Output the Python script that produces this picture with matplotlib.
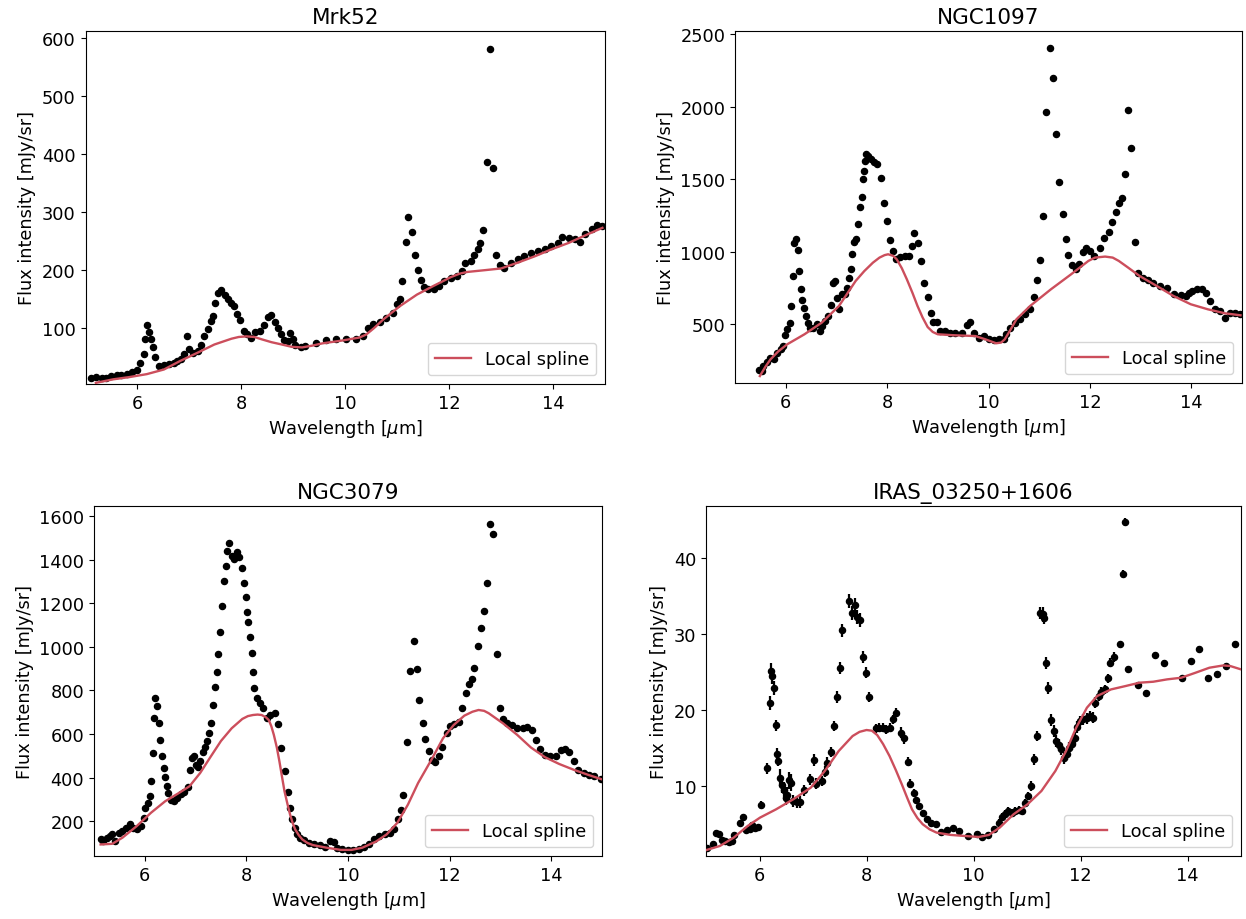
import numpy as np
import matplotlib
matplotlib.use("Agg")
import matplotlib.pyplot as plt

plt.rcParams["font.size"] = 12.8

# --- Mrk52 ---
mrk52_wave = [5.11, 5.21, 5.31, 5.40, 5.50, 5.60, 5.69, 5.79, 5.89, 5.99,
              6.05, 6.12, 6.15, 6.18, 6.23, 6.27, 6.30, 6.34, 6.41, 6.51,
              6.60, 6.70, 6.77, 6.83, 6.90, 6.95, 6.99, 7.06, 7.16, 7.22,
              7.29, 7.35, 7.42, 7.45, 7.50, 7.55, 7.61, 7.68, 7.74, 7.81,
              7.86, 7.92, 7.98, 8.05, 8.11, 8.18, 8.26, 8.36, 8.44, 8.51,
              8.58, 8.65, 8.71, 8.77, 8.83, 8.89, 8.94, 8.99, 9.04, 9.14,
              9.23, 9.43, 9.62, 9.82, 10.01, 10.21, 10.34, 10.44, 10.53, 10.66,
              10.79, 10.92, 10.99, 11.05, 11.10, 11.16, 11.21, 11.28, 11.34, 11.40,
              11.46, 11.52, 11.60, 11.70, 11.80, 11.90, 12.03, 12.16, 12.24, 12.31,
              12.42, 12.48, 12.55, 12.60, 12.66, 12.72, 12.78, 12.84, 12.90, 12.97,
              13.06, 13.19, 13.32, 13.45, 13.58, 13.71, 13.84, 13.97, 14.10, 14.17,
              14.30, 14.43, 14.51, 14.62, 14.75, 14.85, 14.94]
mrk52_flux = [15, 16, 14, 15, 17, 19, 20, 22, 24, 28,
              41, 55, 82, 105, 93, 81, 67, 50, 35, 37,
              38, 40, 44, 47, 55, 87, 64, 58, 61, 72,
              87, 98, 113, 121, 144, 161, 166, 158, 150, 144,
              138, 124, 114, 95, 90, 84, 94, 95, 105, 120,
              122, 111, 101, 90, 80, 78, 91, 81, 72, 67,
              70, 75, 79, 81, 81, 82, 87, 101, 107, 110,
              117, 127, 141, 150, 181, 249, 292, 265, 226, 201,
              183, 171, 167, 167, 173, 181, 187, 190, 199, 213,
              216, 227, 236, 247, 270, 387, 581, 376, 227, 209,
              204, 213, 219, 224, 230, 233, 237, 242, 247, 258,
              256, 253, 249, 262, 271, 277, 276]
mrk52_spl_wave = [5.2, 5.53, 5.85, 6.18, 6.51, 6.83, 7.16, 7.48, 7.81, 7.95,
                  8.10, 8.25, 8.39, 8.58, 8.78, 8.97, 9.17, 9.36, 9.56, 9.95,
                  10.27, 10.40, 10.55, 10.73, 11.05, 11.38, 11.70, 11.90, 12.03, 12.20,
                  12.35, 12.68, 13.00, 13.32, 13.65, 13.97, 14.30, 14.62, 14.95]
mrk52_spl_flux = [6, 12, 16, 21, 29, 44, 58, 72, 82, 85,
                  86, 85, 81, 76, 72, 68, 67, 70, 74, 79,
                  84, 89, 100, 115, 138, 158, 173, 182, 188, 194,
                  197, 200, 203, 213, 224, 236, 247, 260, 273]

# --- NGC1097 ---
ngc1097_wave = [5.48, 5.53, 5.56, 5.63, 5.70, 5.76, 5.83, 5.90, 5.95, 5.98,
                6.03, 6.08, 6.11, 6.14, 6.17, 6.20, 6.24, 6.27, 6.30, 6.33,
                6.36, 6.40, 6.44, 6.48, 6.54, 6.61, 6.67, 6.72, 6.78, 6.84,
                6.90, 6.94, 6.98, 7.01, 7.06, 7.11, 7.17, 7.21, 7.25, 7.28,
                7.31, 7.35, 7.38, 7.43, 7.47, 7.50, 7.52, 7.54, 7.56, 7.58,
                7.63, 7.69, 7.74, 7.81, 7.87, 7.94, 7.99, 8.06, 8.11, 8.18,
                8.26, 8.36, 8.43, 8.49, 8.54, 8.61, 8.66, 8.73, 8.80, 8.87,
                8.91, 8.98, 9.05, 9.14, 9.24, 9.34, 9.47, 9.57, 9.64, 9.71,
                9.81, 9.91, 10.01, 10.11, 10.21, 10.30, 10.35, 10.42, 10.52, 10.62,
                10.72, 10.82, 10.90, 10.96, 11.01, 11.08, 11.14, 11.21, 11.27, 11.33,
                11.39, 11.46, 11.52, 11.57, 11.64, 11.72, 11.79, 11.87, 11.93, 12.01,
                12.09, 12.19, 12.27, 12.37, 12.44, 12.51, 12.57, 12.63, 12.69, 12.76,
                12.82, 12.88, 12.95, 13.05, 13.15, 13.25, 13.38, 13.52, 13.65, 13.79,
                13.89, 13.96, 14.02, 14.12, 14.22, 14.29, 14.36, 14.46, 14.56, 14.66,
                14.76, 14.87, 14.97]
ngc1097_flux = [182, 176, 210, 238, 268, 256, 302, 325, 348, 422,
                463, 509, 624, 831, 1057, 1084, 1011, 866, 739, 666,
                613, 555, 509, 475, 475, 498, 452, 486, 521, 555,
                629, 785, 797, 682, 606, 705, 705, 751, 820, 882,
                981, 1066, 1084, 1193, 1310, 1377, 1503, 1556, 1621, 1671,
                1660, 1637, 1618, 1602, 1510, 1338, 1211, 1080, 1004, 951,
                965, 969, 969, 1038, 1130, 1061, 935, 781, 689, 578,
                514, 514, 452, 452, 440, 436, 436, 491, 514, 436,
                406, 417, 399, 390, 394, 399, 429, 475, 509, 532,
                567, 606, 686, 804, 939, 1246, 1963, 2401, 2196, 1809,
                1480, 1257, 1089, 976, 905, 882, 912, 997, 1027, 1004,
                969, 1022, 1091, 1137, 1206, 1273, 1338, 1372, 1535, 1975,
                1717, 1068, 854, 820, 804, 785, 762, 751, 705, 698,
                693, 716, 728, 744, 744, 716, 659, 601, 590, 544,
                578, 578, 571]
ngc1097_spl_wave = [5.49, 5.60, 5.70, 5.85, 6.03, 6.37, 6.71, 7.05, 7.38, 7.55,
                    7.72, 7.85, 7.95, 8.02, 8.12, 8.19, 8.29, 8.39, 8.50, 8.60,
                    8.70, 8.80, 8.90, 9.00, 9.34, 9.74, 9.94, 10.15, 10.25, 10.32,
                    10.42, 10.55, 10.82, 11.23, 11.63, 11.97, 12.10, 12.30, 12.45, 12.57,
                    12.75, 12.98, 13.32, 13.65, 13.99, 14.33, 14.66, 14.97]
ngc1097_spl_flux = [141, 205, 256, 310, 360, 429, 509, 624, 797, 865,
                    923, 958, 975, 981, 970, 946, 885, 808, 715, 624,
                    545, 479, 445, 429, 422, 417, 394, 367, 372, 394,
                    452, 532, 624, 739, 843, 935, 958, 965, 958, 935,
                    890, 831, 762, 693, 636, 601, 574, 560]

# --- NGC3079 ---
ngc3079_wave = [5.13, 5.18, 5.25, 5.32, 5.36, 5.42, 5.49, 5.56, 5.63, 5.70,
                5.77, 5.85, 5.92, 5.98, 6.01, 6.06, 6.10, 6.13, 6.16, 6.19,
                6.21, 6.24, 6.28, 6.30, 6.34, 6.37, 6.40, 6.43, 6.46, 6.51,
                6.57, 6.64, 6.71, 6.78, 6.85, 6.89, 6.92, 6.96, 7.00, 7.05,
                7.09, 7.14, 7.19, 7.23, 7.27, 7.31, 7.35, 7.39, 7.42, 7.45,
                7.49, 7.52, 7.56, 7.59, 7.62, 7.66, 7.71, 7.76, 7.82, 7.86,
                7.92, 7.95, 7.99, 8.02, 8.04, 8.07, 8.11, 8.13, 8.15, 8.21,
                8.27, 8.32, 8.40, 8.47, 8.56, 8.63, 8.68, 8.75, 8.81, 8.86,
                8.90, 8.95, 8.99, 9.06, 9.13, 9.24, 9.34, 9.44, 9.55, 9.65,
                9.72, 9.79, 9.89, 10.00, 10.10, 10.21, 10.31, 10.41, 10.52, 10.62,
                10.72, 10.83, 10.90, 10.98, 11.04, 11.09, 11.16, 11.23, 11.29, 11.35,
                11.40, 11.47, 11.52, 11.59, 11.65, 11.72, 11.79, 11.86, 11.94, 12.01,
                12.09, 12.18, 12.25, 12.32, 12.38, 12.44, 12.49, 12.55, 12.62, 12.68,
                12.74, 12.79, 12.86, 12.93, 12.99, 13.06, 13.13, 13.23, 13.33, 13.45,
                13.53, 13.62, 13.71, 13.78, 13.87, 13.98, 14.09, 14.19, 14.28, 14.36,
                14.44, 14.53, 14.64, 14.74, 14.85, 14.99]
ngc3079_flux = [116, 109, 124, 132, 139, 109, 147, 154, 170, 185,
                170, 162, 177, 215, 261, 284, 317, 386, 512, 672,
                763, 730, 652, 573, 500, 444, 401, 360, 329, 299,
                291, 307, 325, 332, 355, 436, 489, 497, 459, 447,
                474, 517, 542, 568, 603, 649, 733, 816, 885, 969,
                1068, 1189, 1303, 1372, 1440, 1474, 1415, 1402, 1433, 1410,
                1360, 1293, 1227, 1159, 1113, 1045, 973, 885, 813, 763,
                740, 717, 675, 687, 695, 644, 535, 431, 334, 258,
                208, 170, 139, 124, 112, 101, 93, 89, 81, 109,
                104, 78, 71, 66, 66, 71, 81, 93, 116, 132,
                139, 147, 162, 208, 250, 322, 565, 888, 1026, 900,
                756, 652, 577, 523, 482, 471, 497, 542, 603, 638,
                644, 654, 717, 789, 827, 850, 903, 1002, 1086, 1166,
                1293, 1565, 1516, 966, 721, 669, 649, 641, 626, 629,
                634, 616, 573, 532, 504, 497, 497, 525, 532, 515,
                474, 436, 421, 413, 405, 395]
ngc3079_spl_wave = [5.13, 5.36, 5.56, 5.84, 6.12, 6.40, 6.67, 6.88, 7.09, 7.30,
                    7.50, 7.71, 7.92, 8.03, 8.13, 8.22, 8.30, 8.38, 8.44, 8.49,
                    8.54, 8.60, 8.65, 8.70, 8.75, 8.81, 8.86, 8.91, 8.96, 9.03,
                    9.10, 9.20, 9.31, 9.58, 9.86, 10.07, 10.28, 10.55, 10.76, 10.97,
                    11.18, 11.38, 11.66, 11.87, 12.08, 12.29, 12.45, 12.57, 12.68, 12.77,
                    13.05, 13.33, 13.60, 13.88, 14.16, 14.44, 14.72, 15.02]
ngc3079_spl_flux = [93, 96, 124, 177, 238, 291, 329, 360, 421, 497,
                    568, 626, 669, 682, 687, 689, 687, 677, 664, 636,
                    596, 537, 474, 405, 337, 277, 230, 192, 162, 136,
                    116, 100, 90, 78, 68, 68, 78, 106, 139, 192,
                    276, 375, 489, 580, 641, 684, 702, 710, 706, 695,
                    649, 596, 538, 493, 462, 436, 413, 390]

# --- IRAS_03250+1606 ---
iras_wave = [5.01, 5.13, 5.18, 5.25, 5.29, 5.36, 5.43, 5.49, 5.52, 5.64,
             5.70, 5.75, 5.82, 5.86, 5.92, 5.97, 6.03, 6.14, 6.19, 6.22,
             6.24, 6.27, 6.30, 6.33, 6.35, 6.39, 6.42, 6.45, 6.49, 6.52,
             6.56, 6.59, 6.63, 6.70, 6.76, 6.84, 6.95, 7.01, 7.06, 7.16,
             7.22, 7.27, 7.33, 7.39, 7.44, 7.50, 7.55, 7.67, 7.72, 7.78,
             7.83, 7.87, 7.94, 7.99, 8.04, 8.18, 8.23, 8.30, 8.36, 8.43,
             8.49, 8.55, 8.65, 8.71, 8.77, 8.82, 8.88, 8.93, 8.99, 9.05,
             9.13, 9.21, 9.30, 9.39, 9.51, 9.62, 9.72, 9.90, 10.06, 10.16,
             10.27, 10.39, 10.47, 10.53, 10.59, 10.65, 10.72, 10.78, 10.85, 10.91,
             10.96, 11.02, 11.08, 11.14, 11.19, 11.24, 11.29, 11.32, 11.35, 11.40,
             11.45, 11.51, 11.55, 11.60, 11.64, 11.70, 11.74, 11.79, 11.85, 11.89,
             11.94, 11.99, 12.05, 12.12, 12.17, 12.23, 12.28, 12.34, 12.39, 12.45,
             12.51, 12.56, 12.62, 12.73, 12.79, 12.84, 12.89, 13.07, 13.23, 13.39,
             13.56, 13.90, 14.06, 14.22, 14.39, 14.56, 14.72, 14.89]
iras_flux = [1.87, 2.48, 3.92, 3.79, 2.92, 2.83, 2.70, 2.83, 3.62, 5.23,
             6.02, 4.27, 4.36, 4.93, 4.58, 4.67, 7.55, 12.36, 20.97, 25.13,
             24.47, 22.94, 18.00, 14.29, 13.32, 11.14, 10.17, 9.48, 8.51, 8.86,
             10.79, 10.48, 8.08, 7.99, 7.99, 9.48, 10.92, 13.41, 10.35, 10.70,
             11.92, 13.10, 14.50, 17.91, 21.76, 25.48, 30.46, 34.31, 32.78, 33.79,
             32.21, 31.82, 26.97, 24.91, 21.72, 17.61, 17.70, 17.70, 17.48, 17.70,
             18.79, 19.66, 17.04, 16.30, 13.24, 10.35, 9.17, 8.16, 7.42, 6.55,
             5.67, 5.23, 5.02, 4.01, 4.23, 4.49, 4.14, 3.48, 3.70, 3.35,
             3.62, 4.36, 5.23, 5.98, 6.41, 6.76, 6.55, 6.76, 6.85, 6.76,
             7.86, 8.73, 10.04, 13.54, 16.60, 32.78, 32.56, 32.12, 26.22, 22.86,
             18.66, 17.26, 15.95, 15.42, 14.85, 13.76, 14.29, 14.99, 15.51, 16.38,
             17.78, 18.57, 18.79, 18.92, 19.23, 19.01, 20.97, 21.85, 22.42, 22.72,
             24.17, 26.22, 26.97, 28.63, 37.90, 44.72, 25.35, 23.29, 22.29, 27.23,
             26.13, 24.17, 26.44, 27.97, 24.25, 24.69, 25.79, 28.63]
iras_err = [0.4, 0.4, 0.4, 0.4, 0.4, 0.4, 0.4, 0.4, 0.4, 0.4,
            0.4, 0.4, 0.4, 0.4, 0.4, 0.4, 0.5, 0.7, 0.9, 1.0,
            1.0, 0.9, 0.7, 0.8, 0.7, 1.1, 1.1, 1.1, 1.0, 1.0,
            1.1, 1.1, 0.8, 0.8, 0.8, 0.7, 0.7, 0.8, 0.7, 0.7,
            0.7, 0.7, 0.7, 0.7, 0.8, 0.8, 0.8, 0.9, 0.9, 0.9,
            0.9, 0.9, 0.8, 0.7, 0.7, 0.6, 0.6, 0.6, 0.6, 0.6,
            0.6, 0.6, 0.7, 0.7, 0.6, 0.6, 0.5, 0.5, 0.4, 0.4,
            0.4, 0.4, 0.4, 0.4, 0.4, 0.4, 0.4, 0.4, 0.4, 0.4,
            0.4, 0.4, 0.5, 0.5, 0.5, 0.5, 0.5, 0.5, 0.5, 0.5,
            0.5, 0.5, 0.6, 0.7, 0.7, 0.8, 1.0, 0.8, 0.8, 0.8,
            0.8, 0.8, 0.8, 0.8, 0.8, 0.8, 0.8, 0.8, 0.8, 0.8,
            0.8, 0.7, 0.7, 0.7, 0.7, 0.7, 0.7, 0.7, 0.6, 0.6,
            0.6, 0.6, 0.6, 0.5, 0.5, 0.5, 0.5, 0.4, 0.4, 0.4,
            0.4, 0.4, 0.4, 0.4, 0.4, 0.4, 0.4, 0.4]
iras_spl_wave = [4.99, 5.26, 5.52, 5.78, 6.01, 6.31, 6.63, 6.96, 7.22, 7.48,
                 7.74, 7.87, 8.00, 8.10, 8.20, 8.31, 8.43, 8.55, 8.66, 8.76,
                 8.85, 8.95, 9.05, 9.18, 9.31, 9.57, 9.83, 10.10, 10.29, 10.49,
                 10.75, 11.01, 11.27, 11.53, 11.73, 11.92, 12.12, 12.31, 12.57, 12.84,
                 13.10, 13.36, 13.62, 13.88, 14.15, 14.41, 14.67, 14.80, 15.00]
iras_spl_flux = [1.60, 2.17, 3.27, 4.80, 5.89, 6.98, 8.29, 9.83, 12.01, 14.63,
                 16.60, 17.15, 17.39, 17.30, 16.73, 15.55, 13.98, 12.10, 10.26, 8.50,
                 6.98, 5.85, 5.02, 4.35, 3.92, 3.62, 3.48, 3.35, 3.62, 4.58,
                 6.33, 7.64, 9.39, 12.01, 14.63, 17.70, 20.32, 21.85, 22.72, 23.16,
                 23.60, 23.73, 24.04, 24.25, 24.91, 25.57, 25.87, 25.79, 25.35]

spline_color = "#cc4e5c"

panels = [
    ("Mrk52", mrk52_wave, mrk52_flux, None, mrk52_spl_wave, mrk52_spl_flux, (4, 612)),
    ("NGC1097", ngc1097_wave, ngc1097_flux, None, ngc1097_spl_wave, ngc1097_spl_flux, (93, 2521)),
    ("NGC3079", ngc3079_wave, ngc3079_flux, None, ngc3079_spl_wave, ngc3079_spl_flux, (40, 1646)),
    ("IRAS_03250+1606", iras_wave, iras_flux, iras_err, iras_spl_wave, iras_spl_flux, (0.85, 46.8)),
]

# axes boxes in pixels: left, right, top, bottom
W, H = 1246, 920
boxes = [(85.5, 605, 32, 385), (735, 1242, 32, 384),
         (94, 602, 507, 857), (706, 1241, 507, 857)]

fig = plt.figure(figsize=(W / 100, H / 100), dpi=100)

for (name, wave, flux, err, swave, sflux, ylim), (l, r, t, b) in zip(panels, boxes):
    ax = fig.add_axes([l / W, 1 - b / H, (r - l) / W, (b - t) / H])
    ax.errorbar(wave, flux, yerr=err, fmt="o", color="black", ms=4.4,
                elinewidth=1.6, capsize=0, zorder=2)
    ax.plot(swave, sflux, color=spline_color, lw=1.7, label="Local spline", zorder=3)
    ax.set_xlim(5, 15)
    ax.set_ylim(*ylim)
    ax.set_title(name, fontsize=15.5)
    ax.set_xlabel(r"Wavelength [$\mu$m]")
    ax.set_ylabel("Flux intensity [mJy/sr]")
    ax.legend(loc="lower right")

fig.savefig("out.png", dpi=100)
